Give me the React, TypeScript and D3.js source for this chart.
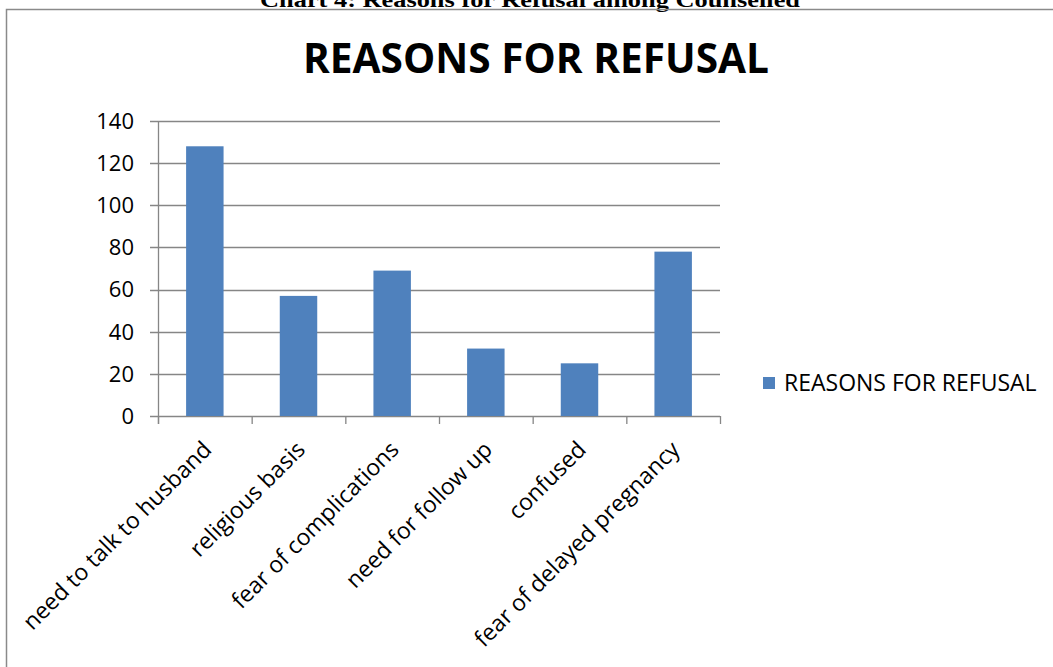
import React from "react";
import * as d3 from "d3";

const categories = [
  "need to talk to husband",
  "religious basis",
  "fear of complications",
  "need for follow up",
  "confused",
  "fear of delayed pregnancy",
];
const values = [128, 57, 69, 32, 25, 78];
const yTicks = [0, 20, 40, 60, 80, 100, 120, 140];
const seriesName = "REASONS FOR REFUSAL";
const chartTitle = "REASONS FOR REFUSAL";
const pageHeading = "Chart 4: Reasons for Refusal among Counselled";

const W = 1053;
const H = 667;
const plot = { left: 158, right: 720, top: 121, bottom: 416 };
const GRID = "#868686";
const BAR = "#4F81BD";
const FONT = "'Open Sans', Lato, sans-serif";

export default function App() {
  const x = d3
    .scaleBand<string>()
    .domain(categories)
    .range([plot.left, plot.right])
    .paddingInner(0.6)
    .paddingOuter(0.3);
  const y = d3.scaleLinear().domain([0, 140]).range([plot.bottom, plot.top]);
  const step = (plot.right - plot.left) / categories.length;
  const boundaries = d3.range(categories.length + 1).map((i) => plot.left + i * step);

  return (
    <svg
      width={W}
      height={H}
      style={{ position: "absolute", left: 0, top: 0, background: "#fff" }}
    >
      <rect x={0} y={0} width={W} height={H} fill="#fff" />
      {/* page heading, cut at the top as in the source image */}
      <text
        x={530}
        y={7}
        textAnchor="middle"
        fontFamily="'Liberation Serif', 'Times New Roman', serif"
        fontWeight="bold"
        fontSize={22}
        textLength={540}
        lengthAdjust="spacingAndGlyphs"
      >
        {pageHeading}
      </text>
      {/* chart frame */}
      <rect x={6.5} y={9.5} width={1100} height={700} fill="none" stroke="#8a8a8a" strokeWidth={1.5} />

      {/* chart title */}
      <text
        x={536}
        y={73}
        textAnchor="middle"
        fontFamily={FONT}
        fontWeight="bold"
        fontSize={42}
        textLength={466}
        lengthAdjust="spacingAndGlyphs"
      >
        {chartTitle}
      </text>

      {/* gridlines */}
      {yTicks.map((t) => (
        <line
          key={"g" + t}
          x1={plot.left - 8}
          x2={plot.right}
          y1={Math.round(y(t)) + 0.5}
          y2={Math.round(y(t)) + 0.5}
          stroke={GRID}
          strokeWidth={1.3}
        />
      ))}
      {/* y axis */}
      <line x1={plot.left + 0.5} x2={plot.left + 0.5} y1={plot.top} y2={plot.bottom + 8} stroke={GRID} strokeWidth={1.3} />
      {boundaries.map((b, i) => (
        <line key={"xt" + i} x1={b + 0.5} x2={b + 0.5} y1={plot.bottom} y2={plot.bottom + 8} stroke={GRID} strokeWidth={1.3} />
      ))}
      {yTicks.map((t) => (
        <text
          key={"yl" + t}
          x={134}
          y={y(t)}
          dy="0.36em"
          textAnchor="end"
          fontFamily={FONT}
          fontSize={22}
          fill="#000"
        >
          {t}
        </text>
      ))}

      {/* bars */}
      {categories.map((c, i) => (
        <rect
          key={"b" + c}
          x={x(c)!}
          y={y(values[i])}
          width={x.bandwidth()}
          height={y(0) - y(values[i])}
          fill={BAR}
        />
      ))}

      {/* x labels */}
      {categories.map((c) => {
        const cx = x(c)! + x.bandwidth() / 2;
        const ax = cx + 8;
        const ay = plot.bottom + 35;
        return (
          <text
            key={"xl" + c}
            x={ax}
            y={ay}
            transform={`rotate(-45 ${ax} ${ay})`}
            textAnchor="end"
            fontFamily={FONT}
            fontSize={23}
            fill="#000"
          >
            {c}
          </text>
        );
      })}

      {/* legend */}
      <rect x={763} y={377} width={12} height={12} fill={BAR} />
      <text x={784} y={383} dy="0.36em" fontFamily={FONT} fontSize={23} fill="#000">
        {seriesName}
      </text>
    </svg>
  );
}
